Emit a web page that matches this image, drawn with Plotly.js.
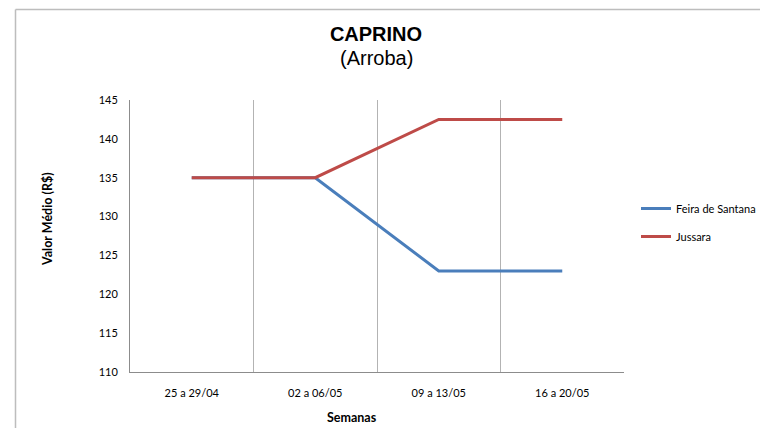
<!DOCTYPE html>
<html>
<head>
<meta charset="utf-8">
<script src="https://cdn.plot.ly/plotly-3.0.1.min.js"></script>
<style>html,body{margin:0;padding:0;background:#fff;}#chart{width:760px;height:428px;}</style>
</head>
<body>
<div id="chart"></div>
<script>
var weeks = ["25 a 29/04", "02 a 06/05", "09 a 13/05", "16 a 20/05"];
var feiraDeSantana = [135, 135, 123, 123];
var jussara = [135, 135, 142.5, 142.5];
var seriesNames = ["Feira de Santana", "Jussara"];
var chartTitle = "CAPRINO";
var chartSubtitle = "(Arroba)";
var xTitle = "Semanas";
var yTitle = "Valor Médio (R$)";

var font = "Lato, 'Open Sans', 'Liberation Sans', sans-serif";
var titleFont = "'Liberation Sans', Arial, sans-serif";
var traces = [
  {x: weeks, y: feiraDeSantana, name: seriesNames[0], legendgroup: "a", type: "scatter", mode: "lines",
   line: {color: "#4a7ebb", width: 3}},
  {x: weeks, y: jussara, name: seriesNames[1], legendgroup: "b", type: "scatter", mode: "lines",
   line: {color: "#be4b48", width: 3}}
];
var L = 130, R = 624, T = 100, B = 372;
var pw = R - L, ph = B - T;
function px(x){ return (x - L) / pw; }
function py(y){ return (B - y) / ph; }
var layout = {
  width: 760, height: 428,
  margin: {l: L, r: 760 - R, t: T, b: 428 - B, autoexpand: false},
  paper_bgcolor: "#fff", plot_bgcolor: "#fff",
  font: {family: font, size: 11, color: "#000"},
  title: {text: "<b>" + chartTitle + "</b>", x: 376 / 760, xanchor: "center", xref: "container",
          y: 1 - 34/428, yref: "container", yanchor: "middle",
          font: {family: titleFont, size: 20, color: "#000"}},
  annotations: [
    {text: chartSubtitle, xref: "paper", yref: "paper", x: px(376), y: py(58), xanchor: "center", yanchor: "middle",
     showarrow: false, font: {family: titleFont, size: 20, color: "#000"}},
    {text: "<b>" + xTitle + "</b>", xref: "paper", yref: "paper", x: px(352), y: py(417), xanchor: "center", yanchor: "middle",
     showarrow: false, font: {family: font, size: 12.5, color: "#000"}},
    {text: "<b>" + yTitle + "</b>", xref: "paper", yref: "paper", x: px(47), y: py(219), xanchor: "center", yanchor: "middle",
     textangle: -90, showarrow: false, font: {family: font, size: 12.5, color: "#000"}}
  ],
  xaxis: {type: "category", range: [-0.5, 3.5], tickson: "boundaries", showgrid: true, gridcolor: "#b3b3b3", gridwidth: 1,
          showline: true, linecolor: "#8c8c8c", ticks: "", zeroline: false,
          tickfont: {size: 11}, ticklabelstandoff: 11, fixedrange: true},
  yaxis: {range: [110, 145], dtick: 5, showgrid: false, showline: true, linecolor: "#8c8c8c", ticks: "", zeroline: false,
          tickfont: {size: 11}, ticklabelstandoff: 9},
  showlegend: true,
  legend: {x: px(636), xanchor: "left", y: py(222.5), yanchor: "middle", font: {size: 11}, traceorder: "grouped",
           tracegroupgap: 9, itemwidth: 30, bgcolor: "rgba(0,0,0,0)"},
  shapes: [
    {type: "line", xref: "paper", yref: "paper", x0: px(15.5), x1: px(800), y0: py(9.5), y1: py(9.5), line: {color: "#bdbdbd", width: 1.5}},
    {type: "line", xref: "paper", yref: "paper", x0: px(15.5), x1: px(15.5), y0: py(9.5), y1: py(440), line: {color: "#bdbdbd", width: 1.5}}
  ]
};
Plotly.newPlot("chart", traces, layout, {displayModeBar: false, staticPlot: true});
</script>
</body>
</html>
